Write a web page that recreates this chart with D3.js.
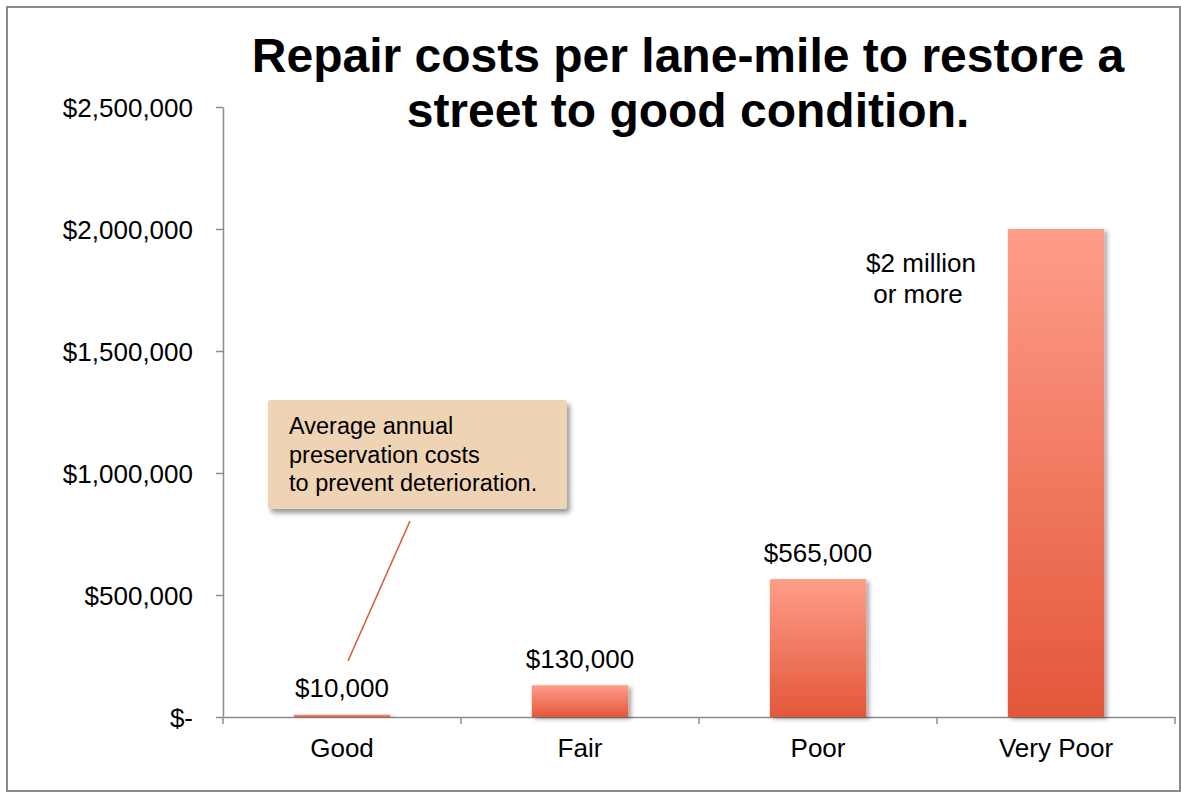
<!DOCTYPE html>
<html>
<head>
<meta charset="utf-8">
<script src="https://cdn.jsdelivr.net/npm/d3@7"></script>
<style>
    body { margin: 0; background: #fff; }
    svg text { font-family: Arial, "Liberation Sans", sans-serif; fill: #000; }
</style>
</head>
<body>
<div id="chart"></div>
<script>
// Data
var categories = ["Good", "Fair", "Poor", "Very Poor"];
var costs = [10000, 130000, 565000, 2000000];
var valueLabels = [["$10,000"], ["$130,000"], ["$565,000"], ["$2 million", "or more"]];
var tickValues = [0, 500000, 1000000, 1500000, 2000000, 2500000];
var tickLabels = ["$-", "$500,000", "$1,000,000", "$1,500,000", "$2,000,000", "$2,500,000"];
var titleLines = ["Repair costs per lane-mile to restore a", "street to good condition."];
var noteLines = ["Average annual", "preservation costs", "to prevent deterioration."];

var width = 1181, height = 792;

var svg = d3.select("#chart")
    .append("svg")
    .attr("width", width)
    .attr("height", height);

var defs = svg.append("defs");

// bar gradient, light on top to dark at the bottom
var grad = defs.append("linearGradient")
    .attr("id", "barGrad")
    .attr("x1", 0).attr("y1", 0).attr("x2", 0).attr("y2", 1);
grad.append("stop").attr("offset", "0%").attr("stop-color", "#fe9d89");
grad.append("stop").attr("offset", "100%").attr("stop-color", "#e3573a");

var shadow = defs.append("filter")
    .attr("id", "shadow")
    .attr("x", "-20%").attr("y", "-20%").attr("width", "150%").attr("height", "150%");
shadow.append("feDropShadow")
    .attr("dx", 3).attr("dy", 2)
    .attr("stdDeviation", 2)
    .attr("flood-color", "#000")
    .attr("flood-opacity", 0.35);

var noteShadow = defs.append("filter")
    .attr("id", "noteShadow")
    .attr("x", "-10%").attr("y", "-10%").attr("width", "130%").attr("height", "140%");
noteShadow.append("feDropShadow")
    .attr("dx", 3).attr("dy", 4)
    .attr("stdDeviation", 2.5)
    .attr("flood-color", "#000")
    .attr("flood-opacity", 0.4);

// outer frame
svg.append("rect")
    .attr("x", 7).attr("y", 7)
    .attr("width", 1173).attr("height", 784)
    .attr("fill", "none")
    .attr("stroke", "#8a8a8a")
    .attr("stroke-width", 2);

// Scales
var x = d3.scaleBand()
    .domain(categories)
    .range([223, 1175])
    .padding(0);

var y = d3.scaleLinear()
    .domain([0, 2500000])
    .range([717, 107]);

var barWidth = x.bandwidth() * 0.405;

// Y axis
var yAxis = svg.append("g")
    .attr("class", "y_axis")
    .attr("transform", "translate(223,0)")
    .call(d3.axisLeft(y)
        .tickValues(tickValues)
        .tickSize(7)
        .tickSizeOuter(0)
        .tickPadding(23)
        .tickFormat(function(d, i) { return tickLabels[i]; }));

yAxis.selectAll("text")
    .style("font-size", "26px")
    .attr("dy", "0.36em");

// X axis
var xAxis = svg.append("g")
    .attr("class", "x_axis")
    .attr("transform", "translate(0,717)")
    .call(d3.axisBottom(x).tickSize(0).tickSizeOuter(0).tickPadding(22));

xAxis.selectAll("text")
    .style("font-size", "26px")
    .attr("dy", "0.71em");

// tick marks on the category boundaries
xAxis.selectAll(".boundary")
    .data(d3.range(categories.length + 1))
    .enter()
    .append("line")
    .attr("class", "boundary")
    .attr("x1", function(i) { return 223 + i * x.step(); })
    .attr("x2", function(i) { return 223 + i * x.step(); })
    .attr("y1", 0).attr("y2", 7);

svg.selectAll(".domain, .tick line, .boundary")
    .attr("stroke", "#8c8c8c")
    .attr("stroke-width", 1.5);

// Bars
svg.selectAll(".bar")
    .data(costs)
    .enter()
    .append("rect")
    .attr("class", "bar")
    .attr("x", function(d, i) { return x(categories[i]) + (x.bandwidth() - barWidth) / 2; })
    .attr("y", function(d) { return y(d); })
    .attr("width", barWidth)
    .attr("height", function(d) { return y(0) - y(d); })
    .attr("fill", "url(#barGrad)")
    .attr("filter", "url(#shadow)");

// Value labels
svg.selectAll(".value_label")
    .data(costs)
    .enter()
    .append("text")
    .attr("class", "value_label")
    .attr("text-anchor", "middle")
    .style("font-size", "26px")
    .attr("transform", function(d, i) {
        // the last label sits inside the chart to the left of its bar
        if (i === categories.length - 1) {
            return "translate(" + (x(categories[i]) - 135 + x.bandwidth() / 2) + "," + (y(d) + 43) + ")";
        }
        return "translate(" + (x(categories[i]) + x.bandwidth() / 2) + "," + (y(d) - 17.5) + ")";
    })
    .selectAll("tspan")
    .data(function(d, i) { return valueLabels[i]; })
    .enter()
    .append("tspan")
    .attr("x", function(d, j) { return j === 0 ? 0 : -3; })
    .attr("dy", function(d, j) { return j === 0 ? 0 : 31; })
    .text(function(d) { return d; });

// Title
svg.append("text")
    .attr("class", "title")
    .attr("text-anchor", "middle")
    .attr("transform", "translate(688,72)")
    .style("font-size", "48px")
    .style("font-weight", "bold")
    .selectAll("tspan")
    .data(titleLines)
    .enter()
    .append("tspan")
    .attr("x", 0)
    .attr("dy", function(d, i) { return i === 0 ? 0 : 55; })
    .text(function(d) { return d; });

// Callout line pointing to the Good bar
svg.append("line")
    .attr("x1", 410).attr("y1", 521)
    .attr("x2", 348).attr("y2", 661)
    .attr("stroke", "#d2603f")
    .attr("stroke-width", 1.6);

// Callout box
var note = svg.append("g").attr("transform", "translate(268,400)");
note.append("rect")
    .attr("width", 299).attr("height", 109)
    .attr("rx", 3)
    .attr("fill", "#eed3b5")
    .attr("filter", "url(#noteShadow)");
note.append("text")
    .style("font-size", "23.5px")
    .selectAll("tspan")
    .data(noteLines)
    .enter()
    .append("tspan")
    .attr("x", 21)
    .attr("y", function(d, i) { return 34 + i * 28.5; })
    .text(function(d) { return d; });
</script>
</body>
</html>
